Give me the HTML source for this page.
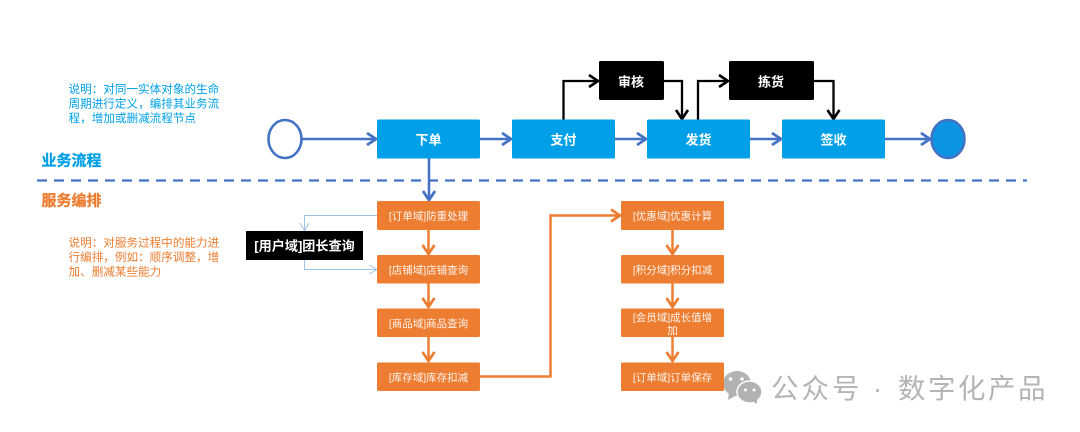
<!DOCTYPE html>
<html lang="zh">
<head>
<meta charset="utf-8">
<style>
html,body{margin:0;padding:0;background:#fff;width:1080px;height:432px;overflow:hidden}
svg{display:block;filter:blur(.35px)}
text{font-family:"Liberation Sans","Noto Sans CJK SC",sans-serif}
.w{fill:#fff;font-weight:700;font-size:13px;text-anchor:middle}
.o{fill:#fff;font-size:10.500px;text-anchor:middle;opacity:.92}
.d1{fill:#00a0e9;font-size:11.600px}
.d2{fill:#ed7d31;font-size:11.600px}
.wm{fill:#b4b4b4;font-size:27.500px}
</style>
</head>
<body>
<svg width="1080" height="432" viewBox="0 0 1080 432" xmlns="http://www.w3.org/2000/svg">
<rect width="1080" height="432" fill="#fff"/>

<!-- description and section labels -->
<text class="d1" x="68.500" y="93">说明：对同一实体对象的生命</text>
<text class="d1" x="68.500" y="107.500">周期进行定义，编排其业务流</text>
<text class="d1" x="68.500" y="122">程，增加或删减流程节点</text>
<text x="41.500" y="165.500" font-size="15px" font-weight="700" fill="#00a0e9" stroke="#00a0e9" stroke-width=".3">业务流程</text>
<text x="41.500" y="205.500" font-size="15px" font-weight="700" fill="#ed7d31" stroke="#ed7d31" stroke-width=".3">服务编排</text>
<text class="d2" x="68.500" y="246.500">说明：对服务过程中的能力进</text>
<text class="d2" x="68.500" y="261">行编排，例如：顺序调整，增</text>
<text class="d2" x="68.500" y="275.500">加、删减某些能力</text>

<!-- dashed separator -->
<line x1="37" y1="180.500" x2="1027" y2="180.500" stroke="#4472c4" stroke-width="2.300" stroke-dasharray="10 7"/>

<!-- blue connectors -->
<g fill="none" stroke="#4472c4" stroke-width="2.500">
  <ellipse cx="285" cy="139" rx="16.500" ry="19" stroke-width="2.600"/>
  <line x1="302" y1="139" x2="375" y2="139"/>
  <path d="M367 133 L376 139 L367 145" stroke-width="2.800"/>
  <line x1="480" y1="139" x2="510" y2="139"/>
  <path d="M502 133 L511 139 L502 145" stroke-width="2.800"/>
  <line x1="615" y1="139" x2="645" y2="139"/>
  <path d="M637 133 L646 139 L637 145" stroke-width="2.800"/>
  <line x1="750" y1="139" x2="780" y2="139"/>
  <path d="M772 133 L781 139 L772 145" stroke-width="2.800"/>
  <line x1="885" y1="139" x2="929" y2="139"/>
  <path d="M921 133 L930 139 L921 145" stroke-width="2.800"/>
  <line x1="429" y1="158" x2="429" y2="199" stroke-width="2.600"/>
  <path d="M423 191 L429 200 L435 191" stroke-width="2.800"/>
</g>
<ellipse cx="948" cy="139" rx="16.500" ry="19" fill="#0a94e2" stroke="#4472c4" stroke-width="2.600"/>

<!-- black connectors -->
<g fill="none" stroke="#000" stroke-width="2.300">
  <path d="M563.500 120 V81 H597"/>
  <path d="M589 75 L598 81 L589 87" stroke-width="2.600"/>
  <path d="M664 81 H682 V118"/>
  <path d="M676 110 L682 119 L688 110" stroke-width="2.600"/>
  <path d="M698 120 V81 H727"/>
  <path d="M719 75 L728 81 L719 87" stroke-width="2.600"/>
  <path d="M814 81 H833.500 V118"/>
  <path d="M827.500 110 L833.500 119 L839.500 110" stroke-width="2.600"/>
</g>

<!-- top nodes -->
<g fill="#00a0e9">
  <rect x="377" y="119.500" width="103" height="39" rx="1.500"/>
  <rect x="512" y="119.500" width="103" height="39" rx="1.500"/>
  <rect x="647" y="119.500" width="103" height="39" rx="1.500"/>
  <rect x="782" y="119.500" width="103" height="39" rx="1.500"/>
</g>
<rect x="599" y="61" width="65" height="39" rx="1.500" fill="#000"/>
<rect x="729" y="61" width="85" height="39" rx="1.500" fill="#000"/>
<text class="w" x="428.500" y="144.500">下单</text>
<text class="w" x="563.500" y="144.500">支付</text>
<text class="w" x="698.500" y="144.500">发货</text>
<text class="w" x="833.500" y="144.500">签收</text>
<text class="w" x="631" y="86.500">审核</text>
<text class="w" x="771" y="86.500">拣货</text>

<!-- light-blue connectors -->
<g fill="none" stroke="#9dc3e6" stroke-width="1">
  <path d="M377 215.500 H304.500 V231"/>
  <path d="M300 223 L304.500 231 L309 223"/>
  <path d="M304.500 259 V269.500 H377"/>
  <path d="M369 265 L377 269.500 L369 274"/>
</g>

<!-- watermark icon sits under the orange node -->
<g fill="#b2b2b2">
  <ellipse cx="737" cy="383.500" rx="14" ry="12.500"/>
  <path d="M729 392 L728 400 L737 395 Z"/>
  <ellipse cx="749.500" cy="392" rx="12.500" ry="11" stroke="#fff" stroke-width="1.500"/>
  <path d="M752 401 L757 404 L757 398 Z"/>
</g>
<g fill="#fff">
  <circle cx="730.500" cy="379" r="1.800"/>
  <circle cx="742" cy="379" r="1.800"/>
  <circle cx="745.500" cy="390" r="1.500"/>
  <circle cx="754" cy="390" r="1.500"/>
</g>

<!-- orange connectors -->
<g fill="none" stroke="#ed7d31" stroke-width="2.500">
  <line x1="428.500" y1="230" x2="428.500" y2="253"/>
  <path d="M422.500 245 L428.500 254 L434.500 245" stroke-width="2.700"/>
  <line x1="428.500" y1="283" x2="428.500" y2="306"/>
  <path d="M422.500 298 L428.500 307 L434.500 298" stroke-width="2.700"/>
  <line x1="428.500" y1="337" x2="428.500" y2="360"/>
  <path d="M422.500 352 L428.500 361 L434.500 352" stroke-width="2.700"/>
  <path d="M480 376.500 H550.500 V215.500 H619"/>
  <path d="M611 209.500 L620 215.500 L611 221.500" stroke-width="2.700"/>
  <line x1="672.500" y1="230" x2="672.500" y2="253"/>
  <path d="M666.500 245 L672.500 254 L678.500 245" stroke-width="2.700"/>
  <line x1="672.500" y1="283" x2="672.500" y2="306"/>
  <path d="M666.500 298 L672.500 307 L678.500 298" stroke-width="2.700"/>
  <line x1="672.500" y1="337" x2="672.500" y2="360"/>
  <path d="M666.500 352 L672.500 361 L678.500 352" stroke-width="2.700"/>
</g>

<!-- orange nodes -->
<g fill="#ed7d31">
  <rect x="377" y="201" width="103" height="29" rx="1.500"/>
  <rect x="377" y="255" width="103" height="28.500" rx="1.500"/>
  <rect x="377" y="308.500" width="103" height="28.500" rx="1.500"/>
  <rect x="377" y="362.500" width="103" height="28.500" rx="1.500"/>
  <rect x="621" y="201" width="103" height="29" rx="1.500"/>
  <rect x="621" y="255" width="103" height="28.500" rx="1.500"/>
  <rect x="621" y="308.500" width="103" height="28.500" rx="1.500"/>
  <rect x="621" y="362.500" width="103" height="28.500" rx="1.500"/>
</g>
<text class="o" x="428.500" y="219.500">[订单域]防重处理</text>
<text class="o" x="428.500" y="273.500">[店铺域]店铺查询</text>
<text class="o" x="428.500" y="327">[商品域]商品查询</text>
<text class="o" x="428.500" y="381">[库存域]库存扣减</text>
<text class="o" x="672.500" y="219.500">[优惠域]优惠计算</text>
<text class="o" x="672.500" y="273.500">[积分域]积分扣减</text>
<text class="o" x="672.500" y="321">[会员域]成长值增</text>
<text class="o" x="672.500" y="334">加</text>
<text class="o" x="672.500" y="381">[订单域]订单保存</text>

<!-- black domain node -->
<rect x="246" y="231" width="117" height="29" fill="#000"/>
<text x="304.500" y="250.500" font-size="13.100px" font-weight="700" fill="#fff" text-anchor="middle">[用户域]团长查询</text>

<!-- watermark text -->
<text class="wm" x="771" y="398" letter-spacing="3">公众号</text>
<text class="wm" x="873" y="398">·</text>
<text class="wm" x="898" y="398" letter-spacing="2.500">数字化产品</text>
</svg>
</body>
</html>
